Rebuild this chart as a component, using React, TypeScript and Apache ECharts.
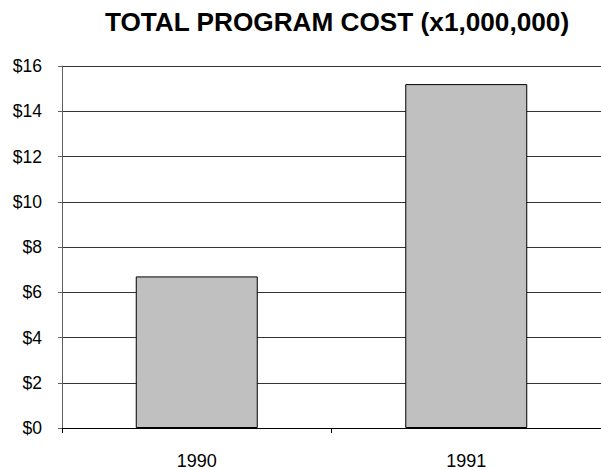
import React, { useEffect, useRef } from "react";
import * as echarts from "echarts";

const categories = ["1990", "1991"];
const costValues = [6.7, 15.2];
const titleText = "TOTAL PROGRAM COST (x1,000,000)";

export default function App() {
  const ref = useRef<HTMLDivElement>(null);
  useEffect(() => {
    document.body.style.margin = "0";
    const chart = echarts.init(ref.current!, null, { renderer: "svg" });
    chart.setOption({
      animation: false,
      backgroundColor: "#ffffff",
      title: {
        text: titleText,
        left: 332,
        top: 4,
        textAlign: "center",
        textStyle: {
          fontFamily: "Arial, 'Liberation Sans', sans-serif",
          fontWeight: "bold",
          fontSize: 26.2,
          color: "#000",
        },
      },
      grid: { left: 62, right: -1, top: 66, bottom: 41 },
      xAxis: {
        type: "category",
        data: categories,
        axisLine: { lineStyle: { color: "#000", width: 1 } },
        axisTick: { show: true, length: 5, lineStyle: { color: "#000" } },
        axisLabel: {
          fontFamily: "Arial, 'Liberation Sans', sans-serif",
          fontSize: 18,
          color: "#000",
          margin: 24,
        },
      },
      yAxis: {
        type: "value",
        min: 0,
        max: 16,
        interval: 2,
        axisLine: { show: true, lineStyle: { color: "#606060", width: 1 } },
        axisTick: { show: true, length: 4, lineStyle: { color: "#606060" } },
        splitLine: { show: true, lineStyle: { color: "#333", width: 1 } },
        axisLabel: {
          fontFamily: "Arial, 'Liberation Sans', sans-serif",
          fontSize: 17.5,
          color: "#000",
          margin: 20,
          formatter: (v: number) => "$" + v,
        },
      },
      series: [
        {
          type: "bar",
          data: costValues,
          barWidth: 122,
          itemStyle: { color: "#c0c0c0", borderColor: "#000", borderWidth: 1 },
        },
      ],
    });
    return () => chart.dispose();
  }, []);
  return (
    <div
      ref={ref}
      style={{ position: "absolute", left: 0, top: 0, width: 601, height: 470 }}
    />
  );
}
